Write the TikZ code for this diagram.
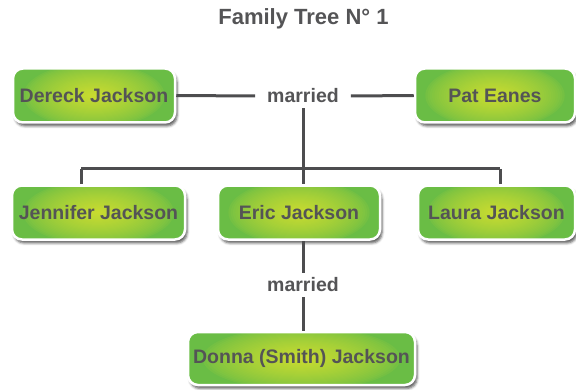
\documentclass[tikz,border=0pt]{standalone}
\usepackage{fontspec}
\setmainfont{Liberation Sans}
\usetikzlibrary{shadows.blur}
\definecolor{shin}{HTML}{C8DB30}
\definecolor{shout}{HTML}{6ABD45}
\definecolor{txt}{HTML}{545456}
\definecolor{ln}{HTML}{4D4D4F}
\newdimen\boxw
\newdimen\boxh
\begin{document}
\begin{tikzpicture}[x=1pt,y=1pt,
  glow/.style={path picture={
    \pgfextractx{\boxw}{\pgfpointdiff{\pgfpointanchor{path picture bounding box}{south west}}{\pgfpointanchor{path picture bounding box}{north east}}}
    \pgfextracty{\boxh}{\pgfpointdiff{\pgfpointanchor{path picture bounding box}{south west}}{\pgfpointanchor{path picture bounding box}{north east}}}
    \foreach \k in {1,...,32} {
      \pgfmathsetmacro\f{1-(\k-1)/32}
      \pgfmathsetmacro\c{100*((\k-1)/31)^0.65}
      \fill[shin!\c!shout] (path picture bounding box.center) ellipse ({0.45*\boxw*\f} and {0.62*\boxh*\f});
    }}},
  person/.style={rounded corners=10pt, draw=white, line width=2.5pt, fill=shout, glow,
    minimum height=54pt, inner sep=0pt, font=\fontsize{19.5}{22}\selectfont\bfseries, text=txt,
    blur shadow={shadow xshift=2pt, shadow yshift=-3.5pt, shadow blur radius=2.5pt, shadow opacity=65}},
  lbl/.style={font=\fontsize{19.5}{22}\selectfont\bfseries, text=txt, inner xsep=12pt, inner ysep=5pt},
  link/.style={draw=ln, line width=3pt}]
\useasboundingbox (0,0) rectangle (576,389);
\node[font=\fontsize{22}{26}\selectfont\bfseries, text=txt] (title) at (303.5,370) {Family Tree N° 1};
% labels and junctions
\node[lbl] (m1) at (303,293) {married};
\node[lbl] (m2) at (303,104) {married};
\coordinate (j) at (303,220);
\coordinate (jl) at (81,220);
\coordinate (jr) at (500,220);
% persons
\node[person, minimum width=162pt] (dereck) at (94,293.5) {Dereck Jackson};
\node[person, minimum width=160pt] (pat) at (495,293.5) {Pat Eanes};
\node[person, minimum width=173pt] (jen) at (98.5,176.5) {Jennifer Jackson};
\node[person, minimum width=162pt] (eric) at (299,176.5) {Eric Jackson};
\node[person, minimum width=157pt] (laura) at (496.5,176.5) {Laura Jackson};
\node[person, minimum width=227pt, minimum height=53pt] (donna) at (301.5,30.5) {Donna (Smith) Jackson};
% connectors
\draw[link] (dereck.east) -- (m1.west);
\draw[link] (m1.east) -- (pat.west);
\draw[link] (m1.south) -- (j);
\draw[link] (jl) -- (jr);
\draw[link] (jl) -- (jl |- jen.north);
\draw[link] (j) -- (j |- eric.north);
\draw[link] (jr) -- (jr |- laura.north);
\draw[link] (m2.north) -- (m2.north |- eric.south);
\draw[link] (m2.south) -- (m2.south |- donna.north);
\end{tikzpicture}
\end{document}
